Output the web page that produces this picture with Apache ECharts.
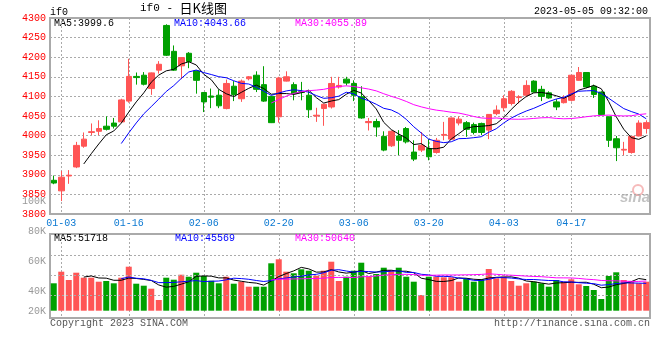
<!DOCTYPE html>
<html><head><meta charset="utf-8">
<script src="https://cdn.jsdelivr.net/npm/echarts@6/dist/echarts.min.js"></script>
<style>html,body{margin:0;padding:0;background:#fff}#c{width:660px;height:360px}</style>
</head><body><div id="c"></div>
<script>
const dates = ['12-30',
 '01-03','01-04','01-05','01-06','01-09','01-10','01-11','01-12','01-13','01-16','01-17','01-18','01-19','01-20','01-30','01-31',
 '02-01','02-02','02-03','02-06','02-07','02-08','02-09','02-10','02-13','02-14','02-15','02-16','02-17','02-20','02-21','02-22','02-23','02-24','02-27','02-28',
 '03-01','03-02','03-03','03-06','03-07','03-08','03-09','03-10','03-13','03-14','03-15','03-16','03-17','03-20','03-21','03-22','03-23','03-24','03-27','03-28','03-29','03-30','03-31',
 '04-03','04-04','04-06','04-07','04-10','04-11','04-12','04-13','04-14','04-17','04-18','04-19','04-20','04-21','04-24','04-25','04-26','04-27','04-28',
 '05-04'];
const labelDates = ['01-03','01-16','02-06','02-20','03-06','03-20','04-03','04-17'];
const openP  = [3886,3859,3897,3920,3973,4008,4011,4024,4032,4035,4088,4151,4154,4120,4167,4281,4215,4178,4210,4165,
                4110,4101,4103,4069,4126,4094,4145,4154,4130,4100,4048,4139,4130,4112,4103,4050,4069,4073,4124,4144,
                4133,4099,4033,4036,3998,3974,3999,4018,3958,3963,3967,3957,4001,3991,4032,4033,4028,4031,4014,4056,
                4071,4082,4097,4103,4139,4118,4109,4086,4084,4090,4141,4161,4126,4111,4048,3992,3963,3957,3999,4018];
const highP  = [3898,3910,3912,3984,4008,4031,4039,4049,4045,4094,4196,4161,4162,4161,4190,4284,4230,4200,4213,4166,
                4111,4120,4118,4143,4139,4143,4152,4164,4177,4101,4150,4164,4136,4137,4116,4071,4081,4150,4150,4150,
                4141,4126,4045,4043,4011,4013,4014,4022,3988,4009,3991,3994,4035,4046,4049,4037,4033,4033,4055,4077,
                4103,4116,4103,4141,4141,4127,4113,4093,4103,4155,4175,4162,4130,4113,4049,3999,3984,3999,4039,4039];
const lowP   = [3876,3833,3877,3917,3969,4001,4001,4013,4018,4033,4084,4130,4128,4104,4158,4203,4165,4144,4172,4107,
                4060,4070,4070,4067,4088,4086,4141,4111,4086,4032,4033,4138,4090,4090,4045,4035,4025,4069,4120,4128,
                4088,4043,4013,3997,3960,3971,3950,3980,3935,3958,3937,3954,3988,3990,4026,3997,4003,4001,3991,4052,
                4062,4077,4082,4098,4110,4088,4094,4065,4082,4087,4140,4121,4096,4052,3971,3935,3950,3954,3998,4005];
const closeP = [3879,3894,3899,3975,3991,4010,4018,4016,4024,4091,4151,4148,4131,4160,4182,4205,4167,4199,4189,4141,
                4086,4098,4076,4133,4105,4139,4150,4118,4088,4033,4147,4150,4107,4110,4066,4052,4080,4133,4128,4134,
                4103,4045,4036,4022,3963,4011,3988,3984,3940,3975,3946,3988,4003,4045,4042,4016,4008,4008,4054,4065,
                4094,4113,4099,4128,4111,4100,4096,4073,4096,4154,4161,4124,4105,4054,3988,3969,3965,3998,4032,4033];
const volume = [47400,59000,50700,58000,53000,53000,49000,49700,47400,53000,64000,47000,45000,42000,30700,53000,51000,56000,54000,58000,
                54700,50000,47400,54000,47000,49000,44000,44000,44000,67400,71400,59000,57400,61400,60000,55000,60000,69000,49700,54000,
                60000,68000,54000,56700,63000,60700,63000,54000,49000,35700,54000,54000,53400,53400,49000,52400,49000,51400,61700,52400,
                54000,49700,45000,47400,49000,47400,44000,50700,49000,51400,46400,44700,40700,31700,54700,58400,50700,49700,47400,49000];
const priceTicks = {min: 3800, max: 4300, step: 50};
const volTickLabels = {min: 20000, max: 100000, step: 20000};
const volGridLevels = [35000, 55000, 75000];
const maTexts = ['MA5:3999.6', 'MA10:4043.66', 'MA30:4055.89'];
const volMaTexts = ['MA5:51718', 'MA10:45569', 'MA30:50640'];
const headerLeft = 'if0';
const headerTitle = ['if0 - ', '日K线图'];
const headerTime = '2023-05-05 09:32:00';
const footerLeft = 'Copyright 2023 SINA.COM';
const footerRight = 'http://finance.sina.com.cn';

const UP = '#ff5555', DOWN = '#00a000';
const MONO = '"Liberation Mono", "DejaVu Sans Mono", monospace';
const GRIDC = '#aaaaaa';

function ma(arr, n) {
  return arr.map((_, i) => {
    if (i < n - 1) return '-';
    let s = 0; for (let k = i - n + 1; k <= i; k++) s += arr[k];
    return +(s / n).toFixed(2);
  });
}
const kData = openP.map((o, i) => [o, closeP[i], lowP[i], highP[i]]);
const isUp = i => closeP[i] >= openP[i];
const showDate = (i, v) => labelDates.indexOf(v) >= 0;

const chart = echarts.init(document.getElementById('c'), null, {renderer: 'canvas'});
const dotted = {color: GRIDC, width: 1, type: [2, 2]};

function lineSeries(data, color, xi, yi) {
  return {type: 'line', data, xAxisIndex: xi, yAxisIndex: yi, symbol: 'none', smooth: false,
    lineStyle: {color, width: 1}, animation: false, silent: true, z: 5};
}

const option = {
  animation: false,
  grid: [
    {left: 50, right: 10, top: 18, height: 196, show: true, borderColor: GRIDC, borderWidth: 2},
    {left: 50, right: 10, top: 234, height: 84, show: true, borderColor: GRIDC, borderWidth: 2},
    {left: 50, right: 10, top: 201, height: 120, show: false},
    {left: 50, right: 10, top: 234, height: 76.7, show: false}
  ],
  xAxis: [
    {type: 'category', gridIndex: 0, data: dates, boundaryGap: true,
     axisLine: {show: true, lineStyle: {color: GRIDC, width: 2}}, axisTick: {show: false},
     axisLabel: {interval: showDate, color: '#0a78d2', fontFamily: MONO, fontSize: 10, margin: 4},
     splitLine: {show: true, interval: showDate, alignWithLabel: true, lineStyle: dotted}},
    {type: 'category', gridIndex: 1, data: dates, boundaryGap: true,
     axisLine: {show: true, lineStyle: {color: GRIDC, width: 2}}, axisTick: {show: false}, axisLabel: {show: false},
     splitLine: {show: true, interval: showDate, alignWithLabel: true, lineStyle: dotted}},
    {type: 'category', gridIndex: 2, data: dates, show: false},
    {type: 'category', gridIndex: 3, data: dates, boundaryGap: true, show: false}
  ],
  yAxis: [
    {type: 'value', gridIndex: 0, min: priceTicks.min, max: priceTicks.max, interval: priceTicks.step,
     axisLine: {show: true, lineStyle: {color: GRIDC, width: 2}}, axisTick: {show: false},
     axisLabel: {color: '#ff0000', fontFamily: MONO, fontSize: 10, margin: 4, formatter: v => String(v)},
     splitLine: {show: true, lineStyle: dotted}},
    {type: 'value', gridIndex: 1, min: 0, max: 1,
     axisLine: {show: true, lineStyle: {color: GRIDC, width: 2}}, axisTick: {show: false},
     axisLabel: {show: false}, splitLine: {show: false}},
    {type: 'value', gridIndex: 2, min: volTickLabels.min, max: volTickLabels.max, interval: volTickLabels.step,
     axisLine: {show: false}, axisTick: {show: false}, splitLine: {show: false},
     axisLabel: {color: '#999999', fontFamily: MONO, fontSize: 10, margin: 4,
       formatter: v => v === volTickLabels.min ? '{up|' + (v / 1000) + 'K}' : (v / 1000) + 'K',
       rich: {up: {color: '#999999', fontFamily: MONO, fontSize: 10, padding: [0, 0, 20, 0]}}}},
    {type: 'value', gridIndex: 3, min: 20000, max: 96700, show: false, splitLine: {show: false}}
  ],
  series: [
    {type: 'candlestick', data: kData, xAxisIndex: 0, yAxisIndex: 0, barWidth: 6,
     itemStyle: {color: UP, color0: DOWN, borderColor: UP, borderColor0: DOWN, borderWidth: 1}, z: 3},
    lineSeries(ma(closeP, 5), '#000000', 0, 0),
    lineSeries(ma(closeP, 10), '#0000ff', 0, 0),
    lineSeries(ma(closeP, 30), '#ff00ff', 0, 0),
    {type: 'bar', data: volume.map((v, i) => ({value: v, itemStyle: {color: isUp(i) ? UP : DOWN}})),
     xAxisIndex: 3, yAxisIndex: 3, barWidth: 6, z: 3,
     markLine: {silent: true, symbol: ['none', 'none'], label: {show: false}, lineStyle: dotted,
       data: volGridLevels.map(v => ({yAxis: v}))}},
    lineSeries(ma(volume, 5), '#000000', 3, 3),
    lineSeries(ma(volume, 10), '#0000ff', 3, 3),
    lineSeries(ma(volume, 30), '#ff00ff', 3, 3)
  ],
  graphic: [
    {type: 'text', left: 50, top: 7, style: {text: headerLeft, font: '10px ' + MONO, fill: '#000'}},
    {type: 'text', left: 140, top: 2, style: {text: '{a|' + headerTitle[0] + '}{b|' + headerTitle[1] + '}',
      rich: {a: {font: '11px ' + MONO, fill: '#000'}, b: {font: '13px "Noto Sans CJK SC"', fill: '#000'}}}},
    {type: 'text', right: 12, top: 6, style: {text: headerTime, font: '10px ' + MONO, fill: '#000'}},
    {type: 'text', left: 54, top: 18, style: {text: maTexts[0], font: '10px ' + MONO, fill: '#000'}},
    {type: 'text', left: 174, top: 18, style: {text: maTexts[1], font: '10px ' + MONO, fill: '#0000ff'}},
    {type: 'text', left: 295, top: 18, style: {text: maTexts[2], font: '10px ' + MONO, fill: '#ff00ff'}},
    {type: 'text', left: 54, top: 233, style: {text: volMaTexts[0], font: '10px ' + MONO, fill: '#000'}},
    {type: 'text', left: 175, top: 233, style: {text: volMaTexts[1], font: '10px ' + MONO, fill: '#0000ff'}},
    {type: 'text', left: 295, top: 233, style: {text: volMaTexts[2], font: '10px ' + MONO, fill: '#ff00ff'}},
    {type: 'text', left: 50, top: 318, style: {text: footerLeft, font: '10px ' + MONO, fill: '#555'}},
    {type: 'text', right: 10, top: 318, style: {text: footerRight, font: '10px ' + MONO, fill: '#555'}},
    {type: 'text', left: 620, top: 190, style: {text: 'sina', font: 'italic bold 15px sans-serif', fill: 'rgba(170,170,170,0.7)'}},
    {type: 'circle', shape: {cx: 638, cy: 190, r: 5}, style: {fill: 'none', stroke: 'rgba(240,140,140,0.6)', lineWidth: 2}}
  ]
};
chart.setOption(option);
</script></body></html>
